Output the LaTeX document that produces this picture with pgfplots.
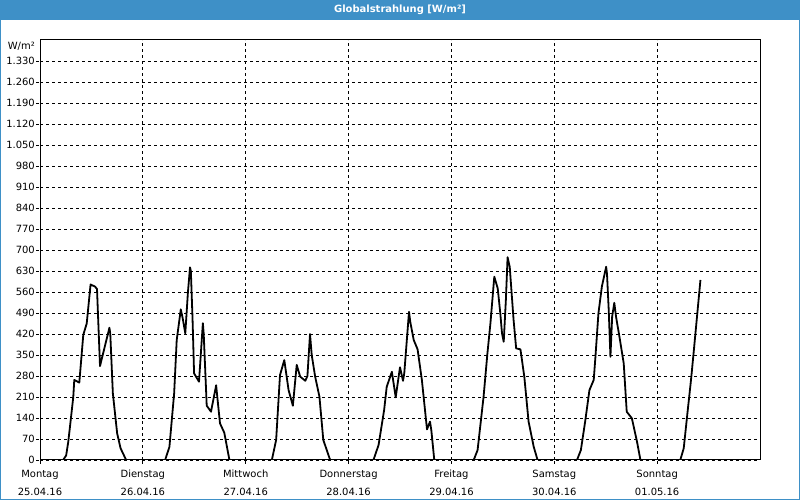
\documentclass[border=0pt]{standalone}
\usepackage{pgfplots}
\pgfplotsset{compat=1.18}
\usepackage{fontspec}
\setmainfont{DejaVu Sans}
\definecolor{barblue}{RGB}{62,144,199}
\begin{document}
\begin{tikzpicture}[x=1bp,y=1bp]
\useasboundingbox (0,0) rectangle (800,500);
\fill[white] (0,0) rectangle (800,500);
\fill[barblue] (0,480) rectangle (800,500);
\draw[barblue,line width=1bp] (0.5,0.5) rectangle (799.5,499.5);
\node[text=white,font=\fontsize{10}{12}\selectfont\bfseries] at (400,490) {Globalstrahlung [W/m²]};
\begin{axis}[
  at={(40bp,40bp)}, anchor=south west,
  width=720bp, height=420bp, scale only axis,
  xmin=0, xmax=168, ymin=0, ymax=1400,
  xtick={0,24,48,72,96,120,144},
  xticklabels={{Montag\\25.04.16},{Dienstag\\26.04.16},{Mittwoch\\27.04.16},{Donnerstag\\28.04.16},{Freitag\\29.04.16},{Samstag\\30.04.16},{Sonntag\\01.05.16}},
  ytick={0,70,...,1330},
  /pgf/number format/.cd, 1000 sep={.}, assume math mode=true, /pgfplots/.cd,
  ticklabel style={font=\fontsize{10}{12}\selectfont},
  yticklabel style={inner sep=1bp},
  xticklabel style={align=center, font=\fontsize{10}{18}\selectfont, inner sep=1bp, yshift=-5bp},
  grid=major,
  major grid style={black, line width=0.8bp, dash pattern=on 3bp off 3bp},
  tick align=outside, major tick length=4bp,
  major tick style={black, line width=0.8bp, dash pattern=on 3bp off 3bp},
  axis line style={black, line width=1bp},
  xtick pos=bottom, ytick pos=left,
]
\addplot[black, line width=1.8bp, line join=round] coordinates {
(0,0) (5.4,0) (6.1,15) (6.6,61) (7.3,150) (7.77,211) (8.0,267) (9.17,258) (10.1,417) (10.9,455) (11.8,585) (12.84,578) (13.3,570) (14.0,313) (16.2,441) (16.4,420) (17.0,222) (18.0,89) (18.8,39) (20.1,0)
(29.2,0) (30.2,44) (31.3,222) (31.9,400) (32.85,502) (33.3,472) (33.9,422) (34.5,556) (35.0,642) (35.2,630) (35.6,467) (35.95,289) (37.1,261) (38.0,456) (38.2,420) (38.9,181) (39.9,161) (41.1,249) (41.3,220) (42.0,122) (43.0,91) (44.2,0)
(54.1,0) (55.1,67) (56.0,283) (57.0,333) (58.0,233) (59.0,181) (59.9,317) (60.7,278) (61.9,264) (62.4,280) (63.0,420) (63.4,350) (64.2,278) (65.2,211) (66.1,67) (67.7,0)
(77.8,0) (79.0,50) (80.3,167) (80.9,244) (82.1,294) (83.0,209) (84.0,309) (84.7,264) (85.0,290) (86.1,494) (86.4,460) (87.2,400) (88.1,369) (89.1,267) (90.3,102) (91.0,128) (91.3,100) (92.0,0)
(101.2,0) (102.1,33) (103.5,211) (104.4,356) (105.1,456) (106.0,611) (106.8,572) (107.4,489) (107.8,422) (108.2,394) (108.7,533) (109.1,676) (109.6,644) (110.5,467) (111.1,372) (112.1,369) (113.0,278) (114.0,128) (115.2,44) (116.1,0)
(125.3,0) (126.2,33) (127.2,128) (128.2,233) (129.2,267) (129.6,344) (130.3,489) (131.1,578) (132.1,644) (132.3,620) (132.7,500) (133.1,344) (133.5,478) (134.0,524) (134.4,478) (135.2,411) (136.2,322) (136.9,161) (138.1,139) (139.3,61) (140.1,0)
(149.4,0) (150.2,39) (151.1,161) (151.9,267) (152.5,356) (153.3,478) (154.1,600)
};
\end{axis}
\node[anchor=east,font=\fontsize{10}{12}\selectfont,inner sep=0pt] at (35,454) {W/m²};
\end{tikzpicture}
\end{document}
